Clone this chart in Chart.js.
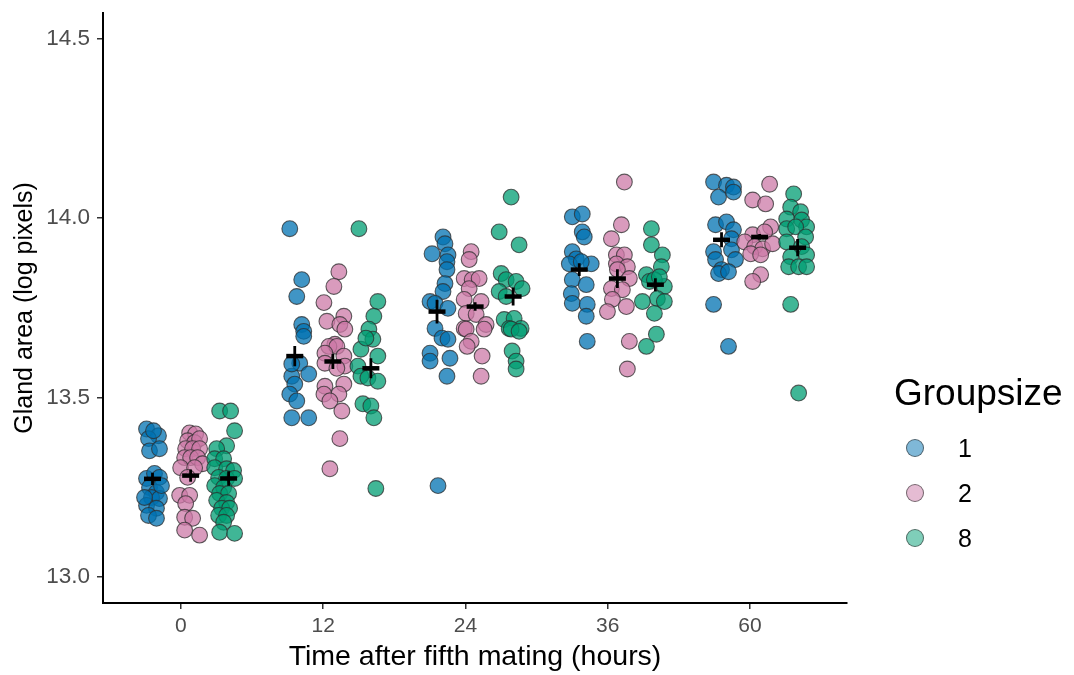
<!DOCTYPE html>
<html>
<head>
<meta charset="utf-8">
<script src="https://cdn.jsdelivr.net/npm/chart.js@4.4.1/dist/chart.umd.min.js"></script>
<style>
  html, body { margin: 0; padding: 0; background: #ffffff; }
  #wrap { position: relative; width: 1074px; height: 675px; font-family: "Liberation Sans", Arial, sans-serif; }
  #c { position: absolute; left: 0; top: 0; }
  .lg-title { position: absolute; left: 894px; top: 372px; font-size: 37px; color: #000; white-space: nowrap; }
  .lg-item { position: absolute; left: 906px; height: 30px; display: flex; align-items: center; }
  .lg-dot { width: 18px; height: 18px; border-radius: 50%; box-sizing: border-box; border: 1.3px solid rgba(40,40,40,0.6); }
  .lg-lab { margin-left: 34px; font-size: 25px; color: #000; }
</style>
</head>
<body>
<div id="wrap">
  <canvas id="c" width="1074" height="675"></canvas>
  <div class="lg-title">Groupsize</div>
  <div class="lg-item" style="top:433px"><div class="lg-dot" style="background:rgba(0,114,178,0.5)"></div><div class="lg-lab">1</div></div>
  <div class="lg-item" style="top:478px"><div class="lg-dot" style="background:rgba(204,121,167,0.5)"></div><div class="lg-lab">2</div></div>
  <div class="lg-item" style="top:523px"><div class="lg-dot" style="background:rgba(0,158,115,0.5)"></div><div class="lg-lab">8</div></div>
</div>
<script>
// ---------------- DATA ----------------
const timeLabels = ['0', '12', '24', '36', '60'];
const groupNames = ['1', '2', '8'];
const yTicks = [13.0, 13.5, 14.0, 14.5];

// Groupsize 1 : gland area per time point
const g1Values = [
  [13.412,13.393,13.385,13.351,13.357,13.407,13.274,13.288,13.277,13.249,13.235,13.221,13.218,13.199,13.191,13.171,13.163,13.254,13.221],
  [13.970,13.828,13.781,13.703,13.684,13.670,13.595,13.565,13.559,13.537,13.509,13.490,13.443,13.443,13.593],
  [13.947,13.928,13.900,13.897,13.878,13.856,13.817,13.795,13.767,13.762,13.748,13.692,13.665,13.662,13.623,13.601,13.609,13.559,13.254],
  [14.003,14.011,13.961,13.947,13.906,13.886,13.872,13.872,13.878,13.828,13.814,13.789,13.762,13.759,13.726,13.656],
  [14.100,14.091,14.086,14.058,14.072,13.981,13.989,13.967,13.942,13.906,13.911,13.884,13.884,13.856,13.845,13.850,13.759,13.642]
];
const g1Jitter = [
  [-0.042,0.042,-0.028,-0.021,0.049,0.007,-0.042,0.014,0.049,-0.021,0.028,-0.007,0.049,-0.042,0.028,-0.028,0.028,0.063,-0.056],
  [-0.035,0.049,0.014,0.049,0.063,0.063,0.035,0.098,-0.021,0,-0.035,0.014,-0.021,0.098,-0.021],
  [0.042,0.056,-0.035,0.077,0.070,0.070,0.056,0.042,-0.049,-0.014,0.077,-0.014,0.035,0.077,-0.049,-0.049,0.091,0.070,0.007],
  [-0.049,0.021,0.021,0.035,-0.049,-0.021,-0.070,0.084,0.014,-0.049,0.049,-0.056,-0.049,0.056,0.049,0.056],
  [-0.056,0.035,0.084,-0.021,0.084,-0.042,0.035,0.084,0.070,-0.056,0.070,-0.042,0.098,0,-0.021,0.049,-0.056,0.049]
];

// Groupsize 2
const g2Values = [
  [13.401,13.398,13.379,13.374,13.385,13.357,13.357,13.357,13.332,13.332,13.332,13.315,13.304,13.304,13.277,13.227,13.227,13.204,13.166,13.163,13.130,13.116],
  [13.850,13.809,13.764,13.712,13.726,13.703,13.690,13.648,13.642,13.642,13.623,13.615,13.595,13.587,13.581,13.531,13.537,13.509,13.509,13.490,13.462,13.385,13.301],
  [13.906,13.884,13.831,13.828,13.831,13.803,13.773,13.767,13.734,13.731,13.703,13.692,13.690,13.690,13.656,13.642,13.615,13.559],
  [14.100,13.981,13.942,13.897,13.897,13.872,13.864,13.856,13.831,13.803,13.800,13.773,13.739,13.753,13.656,13.579],
  [14.094,14.050,14.039,13.975,13.953,13.961,13.933,13.920,13.914,13.900,13.897,13.928,13.842,13.823]
];
const g2Jitter = [
  [-0.007,0.035,-0.021,0.028,0.063,-0.035,0.014,0.063,-0.042,0,0.049,0.084,-0.070,0.028,-0.021,-0.077,-0.007,-0.035,-0.042,0.014,-0.042,0.063],
  [0.042,0.007,-0.063,-0.042,0.077,0.049,0.084,0.014,-0.028,0.028,-0.056,0.077,-0.056,0.084,0.028,-0.056,0.077,-0.063,0.042,-0.021,0.063,0.049,-0.021],
  [-0.028,-0.042,-0.077,-0.021,0.028,-0.042,-0.077,0.042,-0.063,0.007,0.077,-0.077,-0.063,0.063,-0.028,-0.056,0.049,0.042],
  [0.049,0.028,-0.042,-0.007,0.049,-0.007,0.070,0,0.084,-0.042,0.035,-0.035,-0.070,0.063,0.084,0.070],
  [0.070,-0.049,0.042,0.077,-0.049,0.035,-0.105,-0.035,0.021,-0.063,0.007,0.091,0.007,-0.049]
];

// Groupsize 8
const g8Values = [
  [13.462,13.462,13.407,13.365,13.357,13.329,13.329,13.304,13.301,13.296,13.277,13.274,13.274,13.254,13.249,13.232,13.232,13.213,13.207,13.191,13.191,13.171,13.171,13.152,13.124,13.121],
  [13.970,13.767,13.726,13.690,13.662,13.634,13.615,13.587,13.559,13.554,13.545,13.482,13.476,13.443,13.246,13.665],
  [14.058,13.961,13.925,13.845,13.828,13.823,13.795,13.781,13.803,13.717,13.720,13.692,13.692,13.690,13.684,13.629,13.601,13.579],
  [13.970,13.925,13.897,13.864,13.842,13.823,13.809,13.775,13.767,13.767,13.734,13.676,13.642,13.828,13.836],
  [14.067,14.030,14.017,13.997,13.994,13.975,13.970,13.975,13.947,13.933,13.920,13.897,13.892,13.864,13.864,13.864,13.759,13.512]
];
const g8Jitter = [
  [-0.063,0.014,0.042,-0.014,-0.084,-0.098,-0.035,-0.098,-0.014,0.035,-0.070,-0.014,0.042,-0.098,-0.035,-0.063,0,-0.084,-0.014,-0.049,0.007,-0.070,-0.014,-0.035,-0.063,0.042],
  [-0.084,0.049,0.021,-0.014,0.014,-0.070,0.049,-0.091,-0.070,-0.021,0.049,-0.056,0,0.021,0.035,-0.035],
  [-0.014,-0.098,0.042,-0.084,-0.049,0.021,-0.098,-0.049,0.063,-0.063,0.007,-0.028,0.056,-0.014,0.042,-0.007,0.021,0.021],
  [-0.028,-0.028,0.049,0.042,-0.063,-0.042,0.063,0.014,-0.091,0.063,-0.007,0.007,-0.063,-0.007,0.028],
  [-0.028,-0.049,0.021,-0.077,0.028,0.063,-0.077,-0.014,0.056,-0.077,0.028,0.063,-0.049,-0.063,0.007,0.063,-0.049,0.007]
];

// group means and standard errors
const g1Mean = [13.273, 13.615, 13.739, 13.856, 13.939];
const g1Se   = [0.017, 0.028, 0.033, 0.018, 0.021];
const g2Mean = [13.282, 13.600, 13.753, 13.831, 13.947];
const g2Se   = [0.017, 0.021, 0.012, 0.026, 0.008];
const g8Mean = [13.274, 13.581, 13.781, 13.814, 13.917];
const g8Se   = [0.020, 0.028, 0.025, 0.018, 0.024];

// ---------------- BUILD ----------------
const dodge = [-0.2, 0.068, 0.335];
const fills = ['rgba(0,114,178,0.75)', 'rgba(204,121,167,0.75)', 'rgba(0,158,115,0.75)'];
const values = [g1Values, g2Values, g8Values];
const jitters = [g1Jitter, g2Jitter, g8Jitter];
const means = [g1Mean, g2Mean, g8Mean];
const ses = [g1Se, g2Se, g8Se];

const datasets = [];
const meanPts = [];
const sePts = [];
for (let g = 0; g < 3; g++) {
  const pts = [];
  values[g].forEach((arr, ci) => {
    arr.forEach((v, k) => pts.push({ x: ci + dodge[g] + jitters[g][ci][k], y: v }));
  });
  datasets.push({
    label: groupNames[g], data: pts, order: 3 - g,
    backgroundColor: fills[g], borderColor: 'rgba(45,45,45,0.75)', borderWidth: 1.1,
    pointRadius: 7.9, pointHoverRadius: 7.9
  });
  means[g].forEach((m, ci) => {
    const x = ci + dodge[g];
    meanPts.push({ x: x, y: m });
    sePts.push({ x: x, y: m - ses[g][ci] }, { x: x, y: m + ses[g][ci] }, { x: x, y: null });
  });
}
datasets.push({
  label: 'se', data: sePts, showLine: true, spanGaps: false, order: 0,
  borderColor: '#000', borderWidth: 2.8, pointRadius: 0, pointHoverRadius: 0
});
datasets.push({
  label: 'mean', data: meanPts, order: 0, pointStyle: 'line',
  borderColor: '#000', backgroundColor: '#000', borderWidth: 4.5, pointRadius: 8.5, pointHoverRadius: 8.5
});

Chart.defaults.font.family = '"Liberation Sans", Arial, sans-serif';

new Chart(document.getElementById('c'), {
  type: 'scatter',
  data: { datasets: datasets },
  options: {
    responsive: false, animation: false, devicePixelRatio: 1,
    layout: { padding: { top: 10, right: 227, left: 0, bottom: 0 } },
    plugins: { legend: { display: false }, tooltip: { enabled: false } },
    scales: {
      x: {
        type: 'linear', min: -0.548, max: 4.682,
        afterBuildTicks: s => { s.ticks = timeLabels.map((t, i) => ({ value: i })); },
        afterFit: s => { s.height = 72; s.paddingLeft = 0; s.paddingRight = 0; },
        ticks: { callback: v => timeLabels[v], font: { size: 21 }, color: '#4d4d4d', padding: 5, maxRotation: 0, autoSkip: false },
        grid: { display: true, drawOnChartArea: false, drawTicks: true, tickLength: 6, color: '#333', lineWidth: 1.5 },
        border: { display: true, color: '#000', width: 2 },
        title: { display: true, text: 'Time after fifth mating (hours)', font: { size: 28.5 }, color: '#000', padding: { top: 0, bottom: 1 } }
      },
      y: {
        type: 'linear', min: 12.927, max: 14.571,
        afterBuildTicks: s => { s.ticks = yTicks.map(v => ({ value: v })); },
        afterFit: s => { s.width = 103; s.paddingTop = 0; s.paddingBottom = 0; },
        ticks: { callback: v => v.toFixed(1), font: { size: 22.5 }, color: '#4d4d4d', padding: 7 },
        grid: { display: true, drawOnChartArea: false, drawTicks: true, tickLength: 6, color: '#333', lineWidth: 1.5 },
        border: { display: true, color: '#000', width: 2 },
        title: { display: true, text: 'Gland area (log pixels)', font: { size: 25 }, color: '#000', padding: { top: 10, bottom: 0 } }
      }
    }
  }
});
</script>
</body>
</html>
